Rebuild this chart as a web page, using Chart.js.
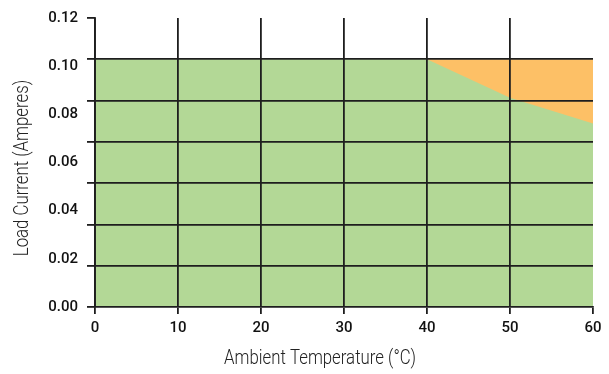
<!DOCTYPE html>
<html>
<head>
<meta charset="utf-8">
<script src="https://cdn.jsdelivr.net/npm/chart.js@4"></script>
<style>
  html, body { margin: 0; padding: 0; background: #fff; }
  #wrap { width: 609px; height: 374px; }
</style>
</head>
<body>
<div id="wrap"><canvas id="derating"></canvas></div>
<script>
// ambient temperature (°C) vs max load current (A)
const temps = [0, 10, 20, 30, 40, 50, 60];
const loadCurrent = [0.10, 0.10, 0.10, 0.10, 0.10, 0.0845, 0.0741];
const overLimit = [null, null, null, null, 0.10, 0.10, 0.10];
const yTickLabels = [0, 0.02, 0.04, 0.06, 0.08, 0.10, 0.12];
// horizontal rules on the plot (they do not sit on the printed labels)
const gridCurrents = [0, 0.01667, 0.03333, 0.05, 0.06667, 0.08333, 0.10, 0.11667];
const xTitle = 'Ambient Temperature (°C)';
const yTitle = 'Load Current (Amperes)';

const ink = '#1e1e1e';
const green = '#b3d896';
const orange = '#fdc066';
const tickFont = { family: 'Roboto, Liberation Sans, sans-serif', size: 15, weight: '500' };

// axis titles drawn by hand so they can sit off-centre and condensed like the original
const axisTitles = {
  id: 'axisTitles',
  afterDraw(chart){
    const ctx = chart.ctx;
    ctx.save();
    ctx.fillStyle = '#222';
    ctx.font = '300 21px Roboto, Liberation Sans, sans-serif';
    ctx.textAlign = 'center';
    ctx.textBaseline = 'middle';
    ctx.save();
    ctx.translate(320, 359);
    ctx.scale(0.8, 1);
    ctx.fillText(xTitle, 0, 0);
    ctx.restore();
    ctx.save();
    ctx.translate(23, 168);
    ctx.rotate(-Math.PI / 2);
    ctx.scale(0.8, 1);
    ctx.fillText(yTitle, 0, 0);
    ctx.restore();
    ctx.restore();
  }
};

function toPoints(vals){
  return temps.map((t, i) => ({ x: t, y: vals[i] })).filter(p => p.y !== null);
}

new Chart(document.getElementById('derating'), {
  type: 'line',
  data: {
    datasets: [
      { data: toPoints(loadCurrent), yAxisID: 'y2', backgroundColor: green, borderWidth: 0, pointRadius: 0, fill: 'origin', tension: 0 },
      { data: toPoints(overLimit), yAxisID: 'y2', backgroundColor: orange, borderWidth: 0, pointRadius: 0, fill: 'origin', tension: 0 }
    ]
  },
  plugins: [axisTitles],
  options: {
    responsive: true,
    maintainAspectRatio: false,
    animation: false,
    layout: { padding: { top: 15, right: 16, left: 0, bottom: 0 } },
    plugins: { legend: { display: false }, tooltip: { enabled: false } },
    scales: {
      x: {
        type: 'linear', min: 0, max: 60,
        afterFit: s => { s.height = 67; },
        ticks: { stepSize: 10, color: '#111', font: tickFont, padding: 5, maxRotation: 0 },
        grid: {
          z: 1,
          color: c => (c.index === 6 ? 'rgba(0,0,0,0)' : ink),
          tickColor: ink, lineWidth: 1.8, tickLength: 7
        },
        border: { z: 1, color: ink, width: 1.8 }
      },
      y: {
        position: 'left', weight: 1, min: 0, max: 0.12,
        afterBuildTicks: s => { s.ticks = yTickLabels.map(v => ({ value: v })); },
        afterFit: s => { s.width = 87; },
        ticks: { color: '#111', font: tickFont, padding: 9, callback: v => v.toFixed(2) },
        grid: { display: false, drawTicks: false },
        border: { display: false }
      },
      y2: {
        position: 'left', weight: 0, min: 0, max: gridCurrents[gridCurrents.length - 1],
        afterBuildTicks: s => { s.ticks = gridCurrents.map(v => ({ value: v })); },
        afterFit: s => { s.width = 8; },
        ticks: { display: false },
        grid: {
          z: 1,
          color: c => ((c.index === 0 || c.index === 7) ? 'rgba(0,0,0,0)' : ink),
          tickColor: ink, lineWidth: 1.8, tickLength: 8
        },
        border: { z: 1, color: ink, width: 1.8 }
      }
    }
  }
});
</script>
</body>
</html>
